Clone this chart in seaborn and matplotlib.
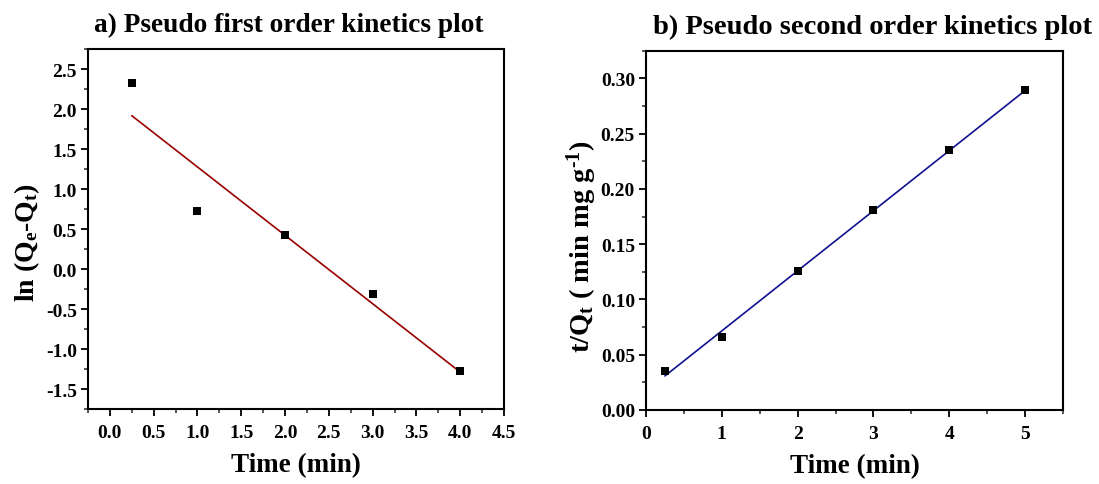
import numpy as np
import pandas as pd
import matplotlib
matplotlib.use("Agg")
import matplotlib.pyplot as plt
from matplotlib.ticker import MultipleLocator, FormatStrFormatter
import seaborn as sns

# Pseudo first order: ln(Qe - Qt) against time
time_first = [0.25, 1.0, 2.0, 3.0, 4.0]
ln_qe_qt = [2.32, 0.73, 0.42, -0.31, -1.27]

# Pseudo second order: t/Qt against time
time_second = [0.25, 1.0, 2.0, 3.0, 4.0, 5.0]
t_over_qt = [0.035, 0.066, 0.126, 0.181, 0.235, 0.289]

first_df = pd.DataFrame({"time": time_first, "value": ln_qe_qt})
second_df = pd.DataFrame({"time": time_second, "value": t_over_qt})

sns.set_style("ticks")
plt.rcParams["font.family"] = ["Liberation Serif", "DejaVu Serif"]
plt.rcParams["font.weight"] = "bold"
plt.rcParams["axes.labelweight"] = "bold"
plt.rcParams["axes.titleweight"] = "bold"
plt.rcParams["text.color"] = "black"
plt.rcParams["axes.labelcolor"] = "black"
plt.rcParams["axes.unicode_minus"] = False
plt.rcParams["mathtext.fontset"] = "custom"
plt.rcParams["mathtext.rm"] = "Liberation Serif:bold"
plt.rcParams["mathtext.it"] = "Liberation Serif:bold"
plt.rcParams["mathtext.bf"] = "Liberation Serif:bold"

fig = plt.figure(figsize=(10.99, 4.85), dpi=100)
ax1 = fig.add_axes([0.0801, 0.1546, 0.3785, 0.7423])
ax2 = fig.add_axes([0.5878, 0.1526, 0.3794, 0.7408])

def style_axes(ax):
    for sp in ax.spines.values():
        sp.set_visible(True)
        sp.set_linewidth(1.5)
        sp.set_color("black")
    ax.tick_params(which="major", direction="out", length=5, width=1.3,
                   labelsize=14, colors="black", pad=3)
    ax.tick_params(which="minor", direction="out", length=3, width=1.1)
    ax.tick_params(axis="x", which="major", pad=6)
    ax.tick_params(top=False, right=False)

# Panel a
sns.regplot(data=first_df, x="time", y="value", ax=ax1, ci=None, truncate=True,
            scatter=False, line_kws={"color": "#990000", "lw": 1.2})
sns.scatterplot(data=first_df, x="time", y="value", ax=ax1, marker="s",
                s=38, color="black", edgecolor="black", linewidth=0, zorder=3)
ax1.set_xlim(-0.25, 4.5)
ax1.set_ylim(-1.75, 2.75)
ax1.xaxis.set_major_locator(MultipleLocator(0.5))
ax1.xaxis.set_minor_locator(MultipleLocator(0.25))
ax1.yaxis.set_major_locator(MultipleLocator(0.5))
ax1.yaxis.set_minor_locator(MultipleLocator(0.25))
ax1.xaxis.set_major_formatter(FormatStrFormatter("%.1f"))
ax1.yaxis.set_major_formatter(FormatStrFormatter("%.1f"))
ax1.set_xticks([t for t in np.arange(0, 4.51, 0.5)])
style_axes(ax1)
ax1.set_xlabel("Time (min)", fontsize=19.5, labelpad=8)
ax1.set_ylabel(r"ln (Q$_{e}$-Q$_{t}$)", fontsize=20)
ax1.yaxis.set_label_coords(-0.111, 0.464)
ax1.set_title("a) Pseudo first order kinetics plot", fontsize=19.7, x=0.483, pad=13)

# Panel b
sns.regplot(data=second_df, x="time", y="value", ax=ax2, ci=None, truncate=True,
            scatter=False, line_kws={"color": "#101090", "lw": 1.2})
sns.scatterplot(data=second_df, x="time", y="value", ax=ax2, marker="s",
                s=38, color="black", edgecolor="black", linewidth=0, zorder=3)
ax2.set_xlim(0, 5.5)
ax2.set_ylim(0, 0.325)
ax2.xaxis.set_major_locator(MultipleLocator(1))
ax2.xaxis.set_minor_locator(MultipleLocator(0.5))
ax2.yaxis.set_major_locator(MultipleLocator(0.05))
ax2.yaxis.set_minor_locator(MultipleLocator(0.025))
ax2.xaxis.set_major_formatter(FormatStrFormatter("%d"))
ax2.yaxis.set_major_formatter(FormatStrFormatter("%.2f"))
style_axes(ax2)
ax2.set_xlabel("Time (min)", fontsize=19.5, labelpad=8)
ax2.set_ylabel(r"t/Q$_{t}$ ( min mg g$^{\text{-}1}$)", fontsize=20.5)
ax2.yaxis.set_label_coords(-0.113, 0.457)
ax2.set_title("b) Pseudo second order kinetics plot", fontsize=20.5, x=0.544, pad=13)

fig.savefig("out.png", dpi=100)
